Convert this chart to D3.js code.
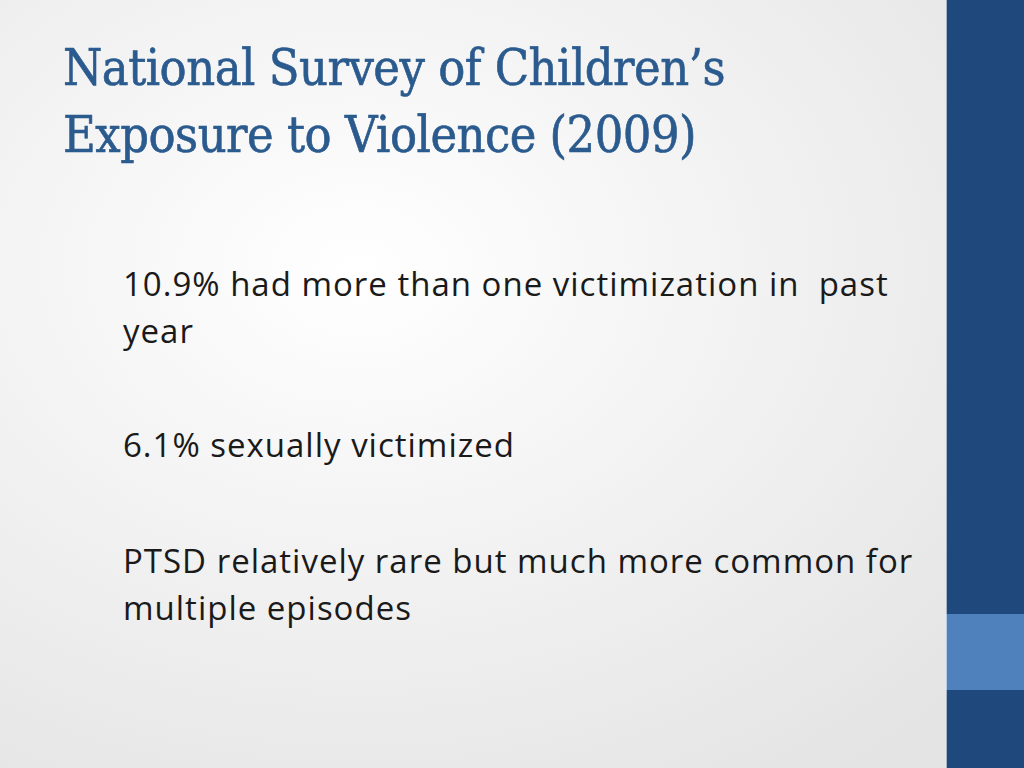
<!DOCTYPE html>
<html><head><meta charset="utf-8">
<script src="https://cdn.jsdelivr.net/npm/d3@7"></script>
<style>body{margin:0;overflow:hidden}</style>
</head><body><div id="slide"></div>
<script>
// Slide content
const titleLines = ["National Survey of Children’s", "Exposure to Violence (2009)"];
const bodyLines = [
  "10.9% had more than one victimization in  past",
  "year",
  "6.1% sexually victimized",
  "PTSD relatively rare but much more common for",
  "multiple episodes"
];
const bodyBaselines = [296, 343, 457, 573, 620];

const W = 1024, H = 768;
const svg = d3.select("#slide").append("svg").attr("width", W).attr("height", H);

// Background gradient
const defs = svg.append("defs");
const grad = defs.append("radialGradient").attr("id", "bg")
  .attr("cx", "35%").attr("cy", "35%").attr("r", "80%");
grad.append("stop").attr("offset", "0%").attr("stop-color", "#ffffff");
grad.append("stop").attr("offset", "100%").attr("stop-color", "#e4e4e4");
svg.append("rect").attr("width", W).attr("height", H).attr("fill", "url(#bg)");

// Right sidebar
svg.append("rect").attr("x", 946).attr("y", 0).attr("width", 78).attr("height", H).attr("fill", "#1f497d");
svg.append("rect").attr("x", 946).attr("y", 614).attr("width", 78).attr("height", 76).attr("fill", "#4f81bd");
svg.append("line").attr("x1", 946.5).attr("x2", 946.5).attr("y1", 0).attr("y2", H)
  .attr("stroke", "#ffffff").attr("stroke-opacity", 0.6);

// Title
svg.selectAll(".title").data(titleLines).join("text")
  .attr("class", "title")
  .attr("x", 63).attr("y", (d, i) => 85 + i * 67)
  .attr("font-family", "'DejaVu Serif Condensed', 'Liberation Serif', serif")
  .attr("font-stretch", "condensed")
  .attr("font-size", 50).attr("letter-spacing", -0.5)
  .attr("stroke", "#2b5b8e").attr("stroke-width", 0.6)
  .attr("fill", "#2b5b8e")
  .attr("xml:space", "preserve")
  .text(d => d);

// Body
svg.selectAll(".body").data(bodyLines).join("text")
  .attr("class", "body")
  .attr("x", 123).attr("y", (d, i) => bodyBaselines[i])
  .attr("font-family", "'Open Sans', 'Noto Sans', sans-serif")
  .attr("font-size", 33).attr("letter-spacing", 1)
  .attr("fill", "#1a1a1a")
  .style("white-space", "pre")
  .text(d => d);
</script>
</body></html>
